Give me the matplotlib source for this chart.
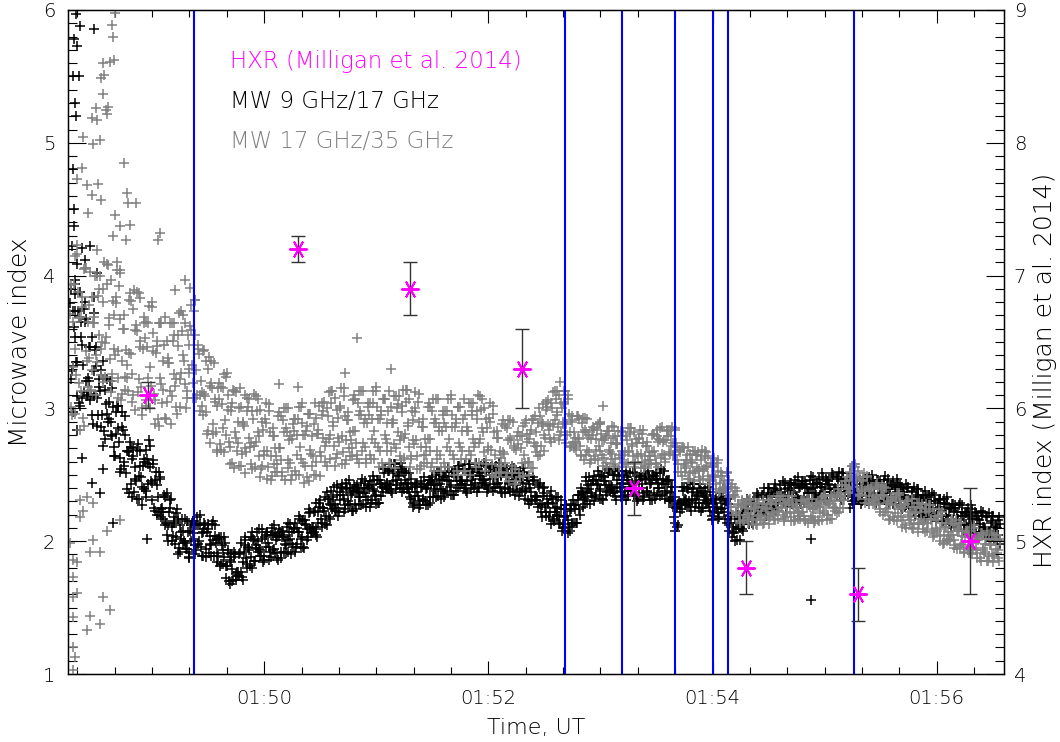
import numpy as np
import matplotlib
matplotlib.use("Agg")
import matplotlib.pyplot as plt
from matplotlib.ticker import MultipleLocator, FixedLocator, FixedFormatter

plt.rcParams['font.family'] = ['DejaVu Sans']
plt.rcParams['font.weight'] = 'light'

# ---------------- data (time in seconds after 01:48:00 UT) ----------------
mw_t0 = 16       # first sample of the 1-s cadence microwave series
mw_t0_b = 16.5   # interleaved samples
mw_t0_c = 16.75  # interleaved samples

mw9_17 = [
    3.79, 3.28, 3.61, 3.86, 3.35, 3.04, 3.65, 3.33, 3.65, 3.09,
    3.21, 3.46, 2.95, 3.28, 3.46, 2.95, 3.13, 2.95, 3.22, 2.77,
    3.22, 2.92, 2.80, 3.01, 2.64, 3.02, 2.85, 2.63, 2.97, 2.60,
    2.51, 2.68, 2.75, 2.33, 2.64, 2.47, 2.69, 2.32, 2.48, 2.57,
    2.60, 2.38, 2.58, 2.72, 2.44, 2.25, 2.52, 2.33, 2.47, 2.18,
    2.22, 2.33, 2.05, 2.22, 2.32, 2.04, 2.14, 2.03, 2.17, 1.92,
    2.17, 2.00, 1.94, 2.07, 1.88, 2.12, 2.06, 1.97, 2.18, 2.00,
    1.96, 2.07, 2.14, 1.88, 2.09, 1.98, 2.13, 1.89, 1.99, 2.02,
    2.02, 1.83, 1.93, 1.99, 1.81, 1.70, 1.90, 1.79, 1.88, 1.71,
    1.77, 1.91, 1.73, 1.92, 2.03, 1.83, 1.93, 1.88, 2.02, 1.85,
    2.07, 1.94, 1.89, 2.02, 1.86, 2.05, 1.99, 1.92, 2.10, 1.94,
    1.91, 2.03, 2.09, 1.87, 2.05, 1.98, 2.11, 1.92, 2.02, 2.07,
    2.09, 1.96, 2.07, 2.17, 2.03, 1.96, 2.16, 2.09, 2.21, 2.06,
    2.11, 2.23, 2.05, 2.22, 2.31, 2.14, 2.23, 2.19, 2.32, 2.17,
    2.38, 2.27, 2.23, 2.35, 2.22, 2.40, 2.35, 2.27, 2.44, 2.30,
    2.27, 2.36, 2.42, 2.24, 2.39, 2.33, 2.44, 2.28, 2.36, 2.40,
    2.41, 2.29, 2.39, 2.46, 2.35, 2.29, 2.46, 2.41, 2.51, 2.39,
    2.43, 2.53, 2.38, 2.51, 2.58, 2.42, 2.49, 2.44, 2.54, 2.39,
    2.53, 2.39, 2.33, 2.41, 2.27, 2.42, 2.37, 2.30, 2.45, 2.32,
    2.30, 2.40, 2.46, 2.29, 2.45, 2.38, 2.50, 2.34, 2.43, 2.46,
    2.48, 2.36, 2.46, 2.53, 2.42, 2.35, 2.52, 2.45, 2.54, 2.42,
    2.45, 2.54, 2.38, 2.51, 2.58, 2.42, 2.49, 2.44, 2.54, 2.40,
    2.57, 2.46, 2.42, 2.52, 2.39, 2.55, 2.50, 2.43, 2.57, 2.44,
    2.41, 2.50, 2.55, 2.36, 2.51, 2.44, 2.54, 2.38, 2.46, 2.49,
    2.49, 2.37, 2.46, 2.52, 2.39, 2.31, 2.46, 2.37, 2.45, 2.31,
    2.33, 2.41, 2.22, 2.34, 2.41, 2.22, 2.28, 2.22, 2.32, 2.15,
    2.33, 2.20, 2.14, 2.24, 2.10, 2.27, 2.19, 2.11, 2.28, 2.14,
    2.14, 2.27, 2.35, 2.20, 2.37, 2.32, 2.45, 2.30, 2.39, 2.43,
    2.45, 2.33, 2.43, 2.50, 2.39, 2.32, 2.48, 2.42, 2.51, 2.38,
    2.41, 2.50, 2.34, 2.46, 2.53, 2.37, 2.43, 2.38, 2.48, 2.34,
    2.51, 2.39, 2.35, 2.45, 2.32, 2.48, 2.43, 2.36, 2.51, 2.38,
    2.35, 2.44, 2.50, 2.32, 2.47, 2.40, 2.51, 2.35, 2.43, 2.45,
    2.45, 2.32, 2.37, 2.33, 2.14, 2.11, 2.30, 2.28, 2.38, 2.27,
    2.31, 2.39, 2.26, 2.37, 2.43, 2.29, 2.34, 2.29, 2.38, 2.25,
    2.40, 2.30, 2.26, 2.32, 2.17, 2.29, 2.26, 2.21, 2.36, 2.25,
    2.22, 2.30, 2.32, 2.08, 2.17, 2.07, 2.17, 2.01, 2.11, 2.17,
    2.21, 2.13, 2.23, 2.30, 2.19, 2.14, 2.29, 2.24, 2.33, 2.22,
    2.26, 2.35, 2.22, 2.33, 2.40, 2.26, 2.33, 2.28, 2.38, 2.26,
    2.42, 2.32, 2.30, 2.39, 2.28, 2.42, 2.38, 2.32, 2.46, 2.34,
    2.32, 2.41, 2.45, 2.29, 2.43, 2.36, 2.46, 2.32, 2.40, 2.43,
    2.44, 2.33, 2.41, 2.48, 2.37, 2.31, 2.45, 2.39, 2.48, 2.36,
    2.39, 2.47, 2.33, 2.45, 2.51, 2.37, 2.43, 2.38, 2.45, 2.28,
    2.41, 2.32, 2.31, 2.41, 2.30, 2.45, 2.41, 2.34, 2.48, 2.36,
    2.34, 2.42, 2.46, 2.30, 2.43, 2.36, 2.46, 2.32, 2.39, 2.41,
    2.42, 2.31, 2.39, 2.44, 2.33, 2.26, 2.39, 2.32, 2.40, 2.27,
    2.30, 2.37, 2.23, 2.33, 2.39, 2.24, 2.30, 2.24, 2.33, 2.20,
    2.35, 2.25, 2.21, 2.30, 2.18, 2.31, 2.26, 2.19, 2.32, 2.20,
    2.17, 2.25, 2.28, 2.12, 2.25, 2.17, 2.27, 2.12, 2.19, 2.21,
    2.22, 2.12, 2.18, 2.24, 2.12, 2.07, 2.19, 2.13, 2.19, 2.08,
    2.10, 2.18, 2.03, 2.14, 2.19, 2.05, 2.10, 2.05, 2.13,
]

mw9_17_b = [
    3.22, 3.73, 3.97, 3.35, 3.73, 3.02, 3.48, 3.12, 3.67, 3.23,
    3.46, 3.11, 2.88, 3.44, 3.08, 3.22, 2.86, 3.36, 2.83, 3.03,
    2.90, 3.21, 2.79, 2.64, 2.97, 3.02, 2.75, 2.54, 2.84, 2.94,
    2.68, 2.36, 2.71, 2.62, 2.37, 2.45, 2.73, 2.57, 2.27, 2.39,
    2.33, 2.62, 2.76, 2.45, 2.61, 2.23, 2.42, 2.22, 2.48, 2.25,
    2.35, 2.14, 2.00, 2.31, 2.11, 2.18, 1.98, 2.24, 1.95, 2.07,
    1.99, 2.17, 1.94, 1.87, 2.08, 2.14, 2.02, 1.93, 2.12, 2.20,
    2.06, 1.89, 2.12, 2.07, 1.91, 1.97, 2.15, 2.04, 1.84, 1.89,
    1.81, 1.97, 2.03, 1.81, 1.93, 1.68, 1.84, 1.71, 1.90, 1.77,
    1.90, 1.77, 1.71, 2.01, 1.87, 1.96, 1.81, 2.07, 1.85, 1.97,
    1.92, 2.09, 1.89, 1.84, 2.03, 2.07, 1.96, 1.88, 2.05, 2.12,
    2.01, 1.86, 2.07, 2.03, 1.92, 1.97, 2.14, 2.07, 1.90, 1.96,
    1.92, 2.10, 2.19, 2.02, 2.15, 1.95, 2.12, 2.03, 2.22, 2.11,
    2.22, 2.09, 2.03, 2.29, 2.17, 2.25, 2.13, 2.37, 2.18, 2.28,
    2.24, 2.41, 2.23, 2.19, 2.37, 2.41, 2.32, 2.24, 2.40, 2.46,
    2.35, 2.23, 2.41, 2.38, 2.28, 2.33, 2.47, 2.40, 2.26, 2.31,
    2.26, 2.42, 2.49, 2.34, 2.46, 2.29, 2.43, 2.37, 2.54, 2.44,
    2.53, 2.42, 2.36, 2.58, 2.46, 2.52, 2.40, 2.59, 2.40, 2.46,
    2.39, 2.51, 2.32, 2.26, 2.41, 2.43, 2.34, 2.27, 2.41, 2.48,
    2.39, 2.27, 2.46, 2.44, 2.33, 2.39, 2.53, 2.47, 2.32, 2.38,
    2.33, 2.49, 2.56, 2.41, 2.52, 2.35, 2.48, 2.40, 2.57, 2.46,
    2.54, 2.42, 2.36, 2.58, 2.46, 2.52, 2.40, 2.59, 2.41, 2.49,
    2.44, 2.59, 2.42, 2.37, 2.53, 2.56, 2.47, 2.40, 2.53, 2.59,
    2.49, 2.36, 2.53, 2.50, 2.39, 2.43, 2.57, 2.50, 2.35, 2.39,
    2.34, 2.49, 2.55, 2.38, 2.48, 2.28, 2.40, 2.31, 2.46, 2.34,
    2.42, 2.28, 2.18, 2.40, 2.26, 2.32, 2.18, 2.38, 2.17, 2.25,
    2.19, 2.33, 2.13, 2.08, 2.24, 2.27, 2.16, 2.08, 2.24, 2.31,
    2.24, 2.14, 2.35, 2.35, 2.26, 2.33, 2.48, 2.42, 2.28, 2.34,
    2.30, 2.46, 2.53, 2.38, 2.49, 2.31, 2.45, 2.37, 2.53, 2.42,
    2.50, 2.38, 2.31, 2.53, 2.41, 2.46, 2.34, 2.53, 2.35, 2.43,
    2.38, 2.52, 2.35, 2.30, 2.46, 2.49, 2.40, 2.33, 2.47, 2.53,
    2.43, 2.31, 2.49, 2.46, 2.35, 2.40, 2.54, 2.47, 2.32, 2.36,
    2.30, 2.41, 2.41, 2.18, 2.25, 2.12, 2.29, 2.24, 2.41, 2.32,
    2.40, 2.30, 2.23, 2.43, 2.32, 2.36, 2.25, 2.43, 2.25, 2.33,
    2.29, 2.41, 2.23, 2.16, 2.28, 2.31, 2.24, 2.18, 2.33, 2.39,
    2.29, 2.14, 2.28, 2.19, 2.03, 2.06, 2.20, 2.14, 2.01, 2.09,
    2.08, 2.24, 2.32, 2.19, 2.29, 2.13, 2.26, 2.19, 2.35, 2.26,
    2.35, 2.25, 2.19, 2.40, 2.29, 2.35, 2.24, 2.43, 2.26, 2.35,
    2.31, 2.45, 2.29, 2.26, 2.40, 2.44, 2.36, 2.29, 2.43, 2.48,
    2.40, 2.28, 2.45, 2.41, 2.31, 2.36, 2.49, 2.43, 2.30, 2.35,
    2.30, 2.43, 2.51, 2.37, 2.47, 2.30, 2.42, 2.35, 2.50, 2.40,
    2.48, 2.37, 2.31, 2.51, 2.40, 2.45, 2.34, 2.51, 2.30, 2.35,
    2.31, 2.45, 2.31, 2.28, 2.43, 2.47, 2.38, 2.31, 2.45, 2.50,
    2.41, 2.29, 2.46, 2.41, 2.31, 2.36, 2.49, 2.42, 2.28, 2.33,
    2.28, 2.41, 2.47, 2.33, 2.42, 2.24, 2.35, 2.27, 2.41, 2.31,
    2.38, 2.27, 2.19, 2.39, 2.27, 2.32, 2.20, 2.38, 2.20, 2.28,
    2.24, 2.36, 2.20, 2.15, 2.29, 2.32, 2.23, 2.15, 2.29, 2.33,
    2.24, 2.11, 2.28, 2.23, 2.13, 2.17, 2.29, 2.22, 2.08, 2.13,
    2.08, 2.20, 2.27, 2.12, 2.22, 2.04, 2.16, 2.07, 2.22, 2.11,
    2.19, 2.07, 2.00, 2.19, 2.08, 2.12, 2.01, 2.18,
]

mw9_17_c = [
    3.90, 3.32, 3.54, 3.09, 3.69, 3.54, 3.08, 3.75, 3.21, 3.10,
    3.06, 3.54, 3.09, 3.32, 2.87, 3.16, 3.29, 2.72, 3.14, 2.96,
    3.05, 2.90, 3.15, 2.71, 2.81, 3.02, 2.52, 2.86, 2.57, 2.80,
    2.39, 2.67, 2.43, 2.70, 2.56, 2.32, 2.49, 2.68, 2.41, 2.62,
    2.69, 2.43, 2.56, 2.31, 2.58, 2.46, 2.20, 2.52, 2.24, 2.17,
    2.12, 2.36, 2.12, 2.25, 2.00, 2.15, 2.21, 1.90, 2.12, 2.02,
    2.08, 1.99, 2.15, 1.92, 2.00, 2.15, 1.90, 2.12, 1.98, 2.13,
    1.89, 2.09, 1.94, 2.13, 2.04, 1.89, 2.01, 2.12, 1.91, 2.03,
    2.03, 1.83, 1.88, 1.72, 1.91, 1.86, 1.70, 1.92, 1.75, 1.74,
    1.74, 1.99, 1.84, 1.97, 1.80, 1.95, 2.03, 1.80, 2.01, 1.95,
    2.00, 1.93, 2.09, 1.89, 1.96, 2.07, 1.86, 2.05, 1.93, 2.06,
    1.87, 2.04, 1.92, 2.08, 2.03, 1.91, 2.01, 2.13, 1.98, 2.10,
    2.14, 1.98, 2.07, 1.95, 2.16, 2.13, 2.01, 2.24, 2.09, 2.08,
    2.07, 2.29, 2.14, 2.26, 2.11, 2.25, 2.33, 2.12, 2.32, 2.27,
    2.33, 2.28, 2.42, 2.25, 2.31, 2.43, 2.22, 2.39, 2.28, 2.40,
    2.23, 2.38, 2.28, 2.42, 2.37, 2.27, 2.36, 2.45, 2.33, 2.42,
    2.45, 2.31, 2.38, 2.28, 2.46, 2.43, 2.34, 2.54, 2.42, 2.41,
    2.39, 2.58, 2.45, 2.54, 2.39, 2.50, 2.56, 2.37, 2.51, 2.43,
    2.44, 2.37, 2.47, 2.29, 2.34, 2.44, 2.25, 2.41, 2.31, 2.43,
    2.27, 2.42, 2.33, 2.48, 2.42, 2.33, 2.42, 2.52, 2.39, 2.49,
    2.52, 2.38, 2.45, 2.35, 2.52, 2.49, 2.38, 2.57, 2.45, 2.43,
    2.40, 2.58, 2.45, 2.54, 2.39, 2.50, 2.56, 2.37, 2.52, 2.47,
    2.51, 2.46, 2.58, 2.41, 2.47, 2.57, 2.38, 2.54, 2.43, 2.54,
    2.37, 2.51, 2.40, 2.54, 2.48, 2.37, 2.46, 2.55, 2.42, 2.50,
    2.53, 2.38, 2.44, 2.32, 2.48, 2.43, 2.30, 2.48, 2.34, 2.31,
    2.26, 2.44, 2.27, 2.36, 2.19, 2.29, 2.34, 2.13, 2.29, 2.22,
    2.26, 2.19, 2.31, 2.13, 2.18, 2.27, 2.06, 2.23, 2.12, 2.27,
    2.14, 2.31, 2.24, 2.40, 2.36, 2.28, 2.38, 2.48, 2.36, 2.46,
    2.49, 2.35, 2.42, 2.32, 2.49, 2.45, 2.35, 2.54, 2.41, 2.39,
    2.36, 2.54, 2.40, 2.49, 2.33, 2.44, 2.50, 2.31, 2.46, 2.41,
    2.44, 2.39, 2.51, 2.34, 2.40, 2.50, 2.31, 2.47, 2.37, 2.48,
    2.31, 2.46, 2.36, 2.51, 2.44, 2.34, 2.43, 2.53, 2.38, 2.46,
    2.46, 2.30, 2.26, 2.08, 2.26, 2.28, 2.22, 2.41, 2.30, 2.29,
    2.27, 2.44, 2.31, 2.39, 2.26, 2.35, 2.40, 2.23, 2.36, 2.31,
    2.35, 2.29, 2.37, 2.19, 2.22, 2.32, 2.17, 2.32, 2.24, 2.34,
    2.17, 2.28, 2.12, 2.20, 2.11, 2.00, 2.09, 2.20, 2.10, 2.22,
    2.27, 2.16, 2.23, 2.13, 2.29, 2.27, 2.18, 2.36, 2.25, 2.24,
    2.23, 2.40, 2.27, 2.36, 2.23, 2.34, 2.39, 2.23, 2.37, 2.33,
    2.37, 2.33, 2.44, 2.30, 2.35, 2.44, 2.28, 2.42, 2.33, 2.43,
    2.29, 2.42, 2.33, 2.45, 2.40, 2.31, 2.39, 2.48, 2.36, 2.44,
    2.47, 2.35, 2.41, 2.31, 2.46, 2.43, 2.34, 2.51, 2.39, 2.37,
    2.35, 2.52, 2.39, 2.47, 2.34, 2.44, 2.47, 2.25, 2.37, 2.33,
    2.37, 2.34, 2.46, 2.32, 2.38, 2.47, 2.30, 2.44, 2.35, 2.45,
    2.30, 2.43, 2.34, 2.45, 2.40, 2.31, 2.39, 2.47, 2.34, 2.42,
    2.45, 2.32, 2.37, 2.27, 2.41, 2.37, 2.26, 2.43, 2.30, 2.28,
    2.25, 2.41, 2.27, 2.35, 2.21, 2.31, 2.35, 2.18, 2.31, 2.26,
    2.30, 2.24, 2.35, 2.19, 2.24, 2.32, 2.15, 2.28, 2.19, 2.28,
    2.13, 2.25, 2.16, 2.27, 2.22, 2.12, 2.19, 2.27, 2.14, 2.22,
    2.25, 2.11, 2.17, 2.06, 2.21, 2.17, 2.07, 2.23, 2.11, 2.08,
    2.06, 2.21, 2.08, 2.15, 2.02, 2.11, 2.16, 1.98,
]

mw17_35 = [
    3.71, 2.95, 3.94, 3.45, 4.23, 3.19, 3.69, 2.93, 4.06, 3.36,
    3.38, 4.03, 3.29, 3.64, 3.10, 3.85, 4.00, 3.50, 3.80, 3.24,
    3.94, 3.63, 3.12, 3.81, 3.40, 4.04, 3.23, 3.67, 3.11, 3.60,
    3.44, 3.13, 3.87, 3.26, 3.75, 2.99, 3.58, 3.87, 3.16, 3.45,
    3.53, 3.02, 3.64, 3.31, 3.80, 3.11, 3.42, 2.92, 3.64, 3.18,
    3.14, 3.69, 3.05, 3.34, 2.88, 3.51, 3.64, 3.22, 3.47, 3.01,
    3.58, 3.36, 3.00, 3.55, 3.27, 3.78, 3.19, 3.55, 3.10, 3.41,
    3.21, 2.95, 3.44, 2.97, 3.30, 2.74, 3.15, 3.34, 2.82, 3.02,
    3.07, 2.69, 3.15, 2.91, 3.27, 2.75, 2.98, 2.59, 3.13, 2.78,
    2.74, 3.15, 2.66, 2.87, 2.51, 2.98, 3.07, 2.74, 2.92, 2.56,
    2.98, 2.79, 2.48, 2.90, 2.65, 3.04, 2.56, 2.82, 2.49, 2.79,
    2.70, 2.52, 2.97, 2.61, 2.91, 2.46, 2.82, 3.00, 2.59, 2.77,
    2.83, 2.50, 2.92, 2.71, 3.04, 2.59, 2.80, 2.48, 2.96, 2.66,
    2.64, 3.04, 2.60, 2.81, 2.49, 2.95, 3.05, 2.75, 2.94, 2.62,
    3.04, 2.87, 2.57, 2.99, 2.75, 3.15, 2.67, 2.94, 2.61, 2.91,
    2.82, 2.64, 3.10, 2.74, 3.04, 2.59, 2.95, 3.13, 2.71, 2.89,
    2.95, 2.62, 3.04, 2.83, 3.16, 2.71, 2.92, 2.59, 3.07, 2.77,
    2.74, 3.13, 2.68, 2.89, 2.55, 3.00, 3.09, 2.79, 2.97, 2.63,
    3.05, 2.87, 2.56, 2.98, 2.73, 3.12, 2.64, 2.90, 2.57, 2.86,
    2.77, 2.59, 3.04, 2.68, 2.98, 2.53, 2.89, 3.07, 2.65, 2.83,
    2.89, 2.56, 2.98, 2.77, 3.10, 2.65, 2.86, 2.53, 3.01, 2.71,
    2.68, 3.07, 2.62, 2.83, 2.50, 2.95, 3.04, 2.74, 2.92, 2.59,
    2.99, 2.82, 2.53, 2.92, 2.69, 3.04, 2.58, 2.82, 2.51, 2.78,
    2.68, 2.52, 2.91, 2.59, 2.85, 2.45, 2.76, 2.90, 2.54, 2.69,
    2.73, 2.48, 2.79, 2.65, 2.91, 2.60, 2.77, 2.55, 2.92, 2.72,
    2.72, 3.00, 2.72, 2.88, 2.68, 2.99, 3.06, 2.87, 3.00, 2.78,
    3.07, 2.95, 2.76, 3.04, 2.88, 3.13, 2.80, 2.96, 2.72, 2.90,
    2.82, 2.69, 2.94, 2.72, 2.89, 2.61, 2.82, 2.92, 2.67, 2.77,
    2.80, 2.62, 2.84, 2.72, 2.90, 2.65, 2.76, 2.59, 2.83, 2.67,
    2.66, 2.86, 2.62, 2.73, 2.56, 2.79, 2.82, 2.67, 2.76, 2.59,
    2.81, 2.72, 2.56, 2.77, 2.64, 2.84, 2.60, 2.74, 2.57, 2.72,
    2.67, 2.58, 2.81, 2.64, 2.79, 2.56, 2.76, 2.86, 2.65, 2.76,
    2.79, 2.66, 2.84, 2.74, 2.85, 2.61, 2.69, 2.52, 2.71, 2.57,
    2.55, 2.71, 2.51, 2.59, 2.45, 2.65, 2.67, 2.54, 2.61, 2.47,
    2.63, 2.56, 2.43, 2.59, 2.48, 2.63, 2.43, 2.53, 2.38, 2.49,
    2.45, 2.37, 2.52, 2.33, 2.41, 2.20, 2.33, 2.38, 2.20, 2.26,
    2.27, 2.15, 2.29, 2.21, 2.32, 2.17, 2.24, 2.13, 2.29, 2.19,
    2.18, 2.31, 2.17, 2.24, 2.13, 2.28, 2.31, 2.21, 2.28, 2.17,
    2.31, 2.25, 2.15, 2.29, 2.21, 2.34, 2.18, 2.27, 2.16, 2.26,
    2.23, 2.17, 2.31, 2.19, 2.29, 2.14, 2.26, 2.32, 2.18, 2.24,
    2.26, 2.15, 2.30, 2.23, 2.35, 2.20, 2.28, 2.17, 2.34, 2.25,
    2.25, 2.39, 2.25, 2.34, 2.25, 2.42, 2.48, 2.41, 2.50, 2.41,
    2.56, 2.47, 2.34, 2.48, 2.38, 2.51, 2.32, 2.41, 2.28, 2.39,
    2.35, 2.27, 2.44, 2.28, 2.39, 2.20, 2.34, 2.40, 2.22, 2.28,
    2.30, 2.16, 2.32, 2.24, 2.36, 2.18, 2.25, 2.12, 2.30, 2.18,
    2.16, 2.32, 2.13, 2.21, 2.07, 2.25, 2.28, 2.15, 2.22, 2.08,
    2.23, 2.16, 2.03, 2.19, 2.08, 2.24, 2.04, 2.14, 1.99, 2.11,
    2.07, 2.00, 2.17, 2.01, 2.12, 1.94, 2.08, 2.14, 1.97, 2.03,
    2.06, 1.91, 2.08, 1.99, 2.12, 1.93, 2.01, 1.87, 2.06, 1.93,
    1.92, 2.08, 1.89, 1.97, 1.84, 2.01, 2.05, 1.93, 2.00,
]

mw17_35_b = [
    3.01, 3.65, 4.15, 3.25, 3.88, 2.84, 3.76, 4.05, 3.43, 3.16,
    3.78, 3.14, 3.64, 4.00, 3.35, 3.90, 3.45, 3.20, 4.10, 3.54,
    4.08, 3.37, 3.21, 3.70, 3.84, 3.43, 3.92, 3.06, 3.60, 3.24,
    3.33, 3.82, 3.41, 3.05, 3.89, 3.63, 3.12, 3.46, 2.95, 3.64,
    3.06, 3.46, 3.77, 3.17, 3.57, 2.88, 3.47, 3.64, 3.23, 3.04,
    3.48, 2.92, 3.34, 3.64, 3.09, 3.55, 3.17, 2.96, 3.72, 3.27,
    3.70, 3.18, 3.08, 3.48, 3.62, 3.33, 3.73, 3.08, 3.45, 3.10,
    3.12, 3.43, 3.09, 2.81, 3.39, 3.19, 2.81, 3.05, 2.67, 3.15,
    2.73, 3.03, 3.26, 2.80, 3.10, 2.58, 3.01, 3.14, 2.82, 2.68,
    3.00, 2.57, 2.88, 3.10, 2.67, 3.01, 2.71, 2.54, 3.11, 2.75,
    3.07, 2.64, 2.54, 2.84, 2.92, 2.68, 2.98, 2.46, 2.79, 2.58,
    2.64, 2.94, 2.70, 2.49, 3.00, 2.85, 2.55, 2.76, 2.46, 2.88,
    2.53, 2.80, 3.01, 2.62, 2.89, 2.44, 2.83, 2.96, 2.69, 2.57,
    2.88, 2.50, 2.81, 3.02, 2.64, 2.98, 2.72, 2.57, 3.12, 2.80,
    3.13, 2.72, 2.63, 2.93, 3.02, 2.79, 3.09, 2.58, 2.91, 2.70,
    2.76, 3.06, 2.83, 2.62, 3.13, 2.98, 2.68, 2.89, 2.59, 3.01,
    2.65, 2.92, 3.13, 2.74, 3.01, 2.56, 2.95, 3.07, 2.80, 2.68,
    2.98, 2.59, 2.89, 3.09, 2.70, 3.03, 2.76, 2.61, 3.14, 2.81,
    3.14, 2.71, 2.62, 2.91, 3.00, 2.76, 3.05, 2.54, 2.86, 2.65,
    2.71, 3.01, 2.77, 2.56, 3.07, 2.92, 2.62, 2.83, 2.53, 2.95,
    2.59, 2.86, 3.07, 2.68, 2.95, 2.50, 2.89, 3.01, 2.74, 2.62,
    2.92, 2.53, 2.83, 3.04, 2.65, 2.98, 2.71, 2.56, 3.10, 2.77,
    3.07, 2.67, 2.58, 2.85, 2.93, 2.69, 2.96, 2.48, 2.78, 2.57,
    2.63, 2.88, 2.66, 2.48, 2.91, 2.78, 2.51, 2.70, 2.43, 2.79,
    2.51, 2.70, 2.87, 2.59, 2.81, 2.50, 2.81, 2.91, 2.74, 2.67,
    2.89, 2.65, 2.87, 3.03, 2.78, 3.01, 2.84, 2.75, 3.12, 2.91,
    3.13, 2.86, 2.80, 3.00, 3.05, 2.88, 3.07, 2.71, 2.91, 2.75,
    2.78, 2.94, 2.77, 2.64, 2.93, 2.84, 2.65, 2.78, 2.59, 2.84,
    2.64, 2.77, 2.88, 2.68, 2.81, 2.57, 2.78, 2.83, 2.69, 2.62,
    2.78, 2.57, 2.73, 2.83, 2.63, 2.79, 2.65, 2.58, 2.85, 2.68,
    2.85, 2.64, 2.58, 2.74, 2.78, 2.66, 2.81, 2.55, 2.72, 2.61,
    2.64, 2.80, 2.68, 2.58, 2.84, 2.77, 2.63, 2.75, 2.60, 2.83,
    2.67, 2.79, 2.86, 2.65, 2.74, 2.52, 2.67, 2.71, 2.58, 2.52,
    2.65, 2.47, 2.60, 2.68, 2.51, 2.65, 2.53, 2.46, 2.69, 2.54,
    2.67, 2.49, 2.45, 2.56, 2.58, 2.48, 2.59, 2.37, 2.49, 2.40,
    2.41, 2.51, 2.39, 2.26, 2.43, 2.35, 2.21, 2.27, 2.14, 2.30,
    2.16, 2.25, 2.31, 2.18, 2.27, 2.12, 2.25, 2.29, 2.20, 2.16,
    2.26, 2.14, 2.24, 2.31, 2.18, 2.29, 2.20, 2.16, 2.34, 2.23,
    2.34, 2.20, 2.17, 2.27, 2.30, 2.22, 2.32, 2.15, 2.26, 2.19,
    2.21, 2.30, 2.22, 2.15, 2.32, 2.27, 2.17, 2.24, 2.14, 2.28,
    2.16, 2.26, 2.33, 2.21, 2.30, 2.16, 2.29, 2.34, 2.26, 2.23,
    2.34, 2.22, 2.33, 2.42, 2.31, 2.45, 2.39, 2.37, 2.57, 2.47,
    2.58, 2.41, 2.35, 2.45, 2.48, 2.38, 2.48, 2.28, 2.39, 2.30,
    2.31, 2.42, 2.32, 2.22, 2.42, 2.35, 2.22, 2.29, 2.16, 2.32,
    2.18, 2.27, 2.36, 2.19, 2.30, 2.11, 2.27, 2.30, 2.20, 2.14,
    2.26, 2.09, 2.21, 2.29, 2.13, 2.25, 2.13, 2.07, 2.28, 2.14,
    2.27, 2.09, 2.05, 2.16, 2.19, 2.09, 2.20, 1.98, 2.11, 2.02,
    2.04, 2.15, 2.05, 1.95, 2.16, 2.09, 1.96, 2.04, 1.91, 2.08,
    1.93, 2.03, 2.11, 1.95, 2.05, 1.87, 2.02, 2.06, 1.95, 1.90,
    2.02, 1.85, 1.97, 2.06, 1.89, 2.02, 1.91, 1.85,
]

mw17_35_c = [
    3.93, 3.31, 2.96, 4.16, 3.68, 3.13, 3.84, 2.87, 4.06, 3.65,
    3.13, 3.84, 3.69, 3.40, 4.00, 3.55, 3.25, 3.90, 3.49, 4.09,
    3.68, 3.97, 3.26, 3.45, 3.79, 3.08, 4.02, 3.36, 3.70, 3.14,
    3.23, 3.42, 3.81, 3.10, 3.59, 3.88, 3.22, 3.51, 3.00, 3.69,
    3.65, 3.23, 3.00, 3.76, 3.43, 3.06, 3.51, 2.87, 3.64, 3.36,
    2.93, 3.51, 3.38, 3.13, 3.64, 3.26, 3.01, 3.55, 3.22, 3.73,
    3.40, 3.64, 3.13, 3.30, 3.59, 3.08, 3.82, 3.29, 3.48, 2.98,
    3.02, 3.11, 3.36, 2.83, 3.17, 3.36, 2.88, 3.07, 2.69, 3.19,
    3.16, 2.85, 2.67, 3.24, 2.99, 2.71, 3.04, 2.55, 3.12, 2.90,
    2.57, 3.01, 2.90, 2.70, 3.08, 2.78, 2.58, 2.98, 2.72, 3.09,
    2.82, 2.99, 2.57, 2.68, 2.89, 2.47, 3.03, 2.64, 2.85, 2.52,
    2.58, 2.70, 2.94, 2.52, 2.82, 3.00, 2.61, 2.79, 2.50, 2.92,
    2.92, 2.65, 2.50, 3.01, 2.80, 2.57, 2.87, 2.45, 2.96, 2.79,
    2.50, 2.93, 2.84, 2.67, 3.04, 2.78, 2.60, 3.00, 2.77, 3.13,
    2.90, 3.08, 2.66, 2.78, 3.00, 2.58, 3.15, 2.76, 2.97, 2.64,
    2.70, 2.83, 3.07, 2.65, 2.95, 3.13, 2.74, 2.92, 2.62, 3.04,
    3.04, 2.77, 2.62, 3.13, 2.92, 2.68, 2.98, 2.56, 3.07, 2.89,
    2.59, 3.01, 2.91, 2.73, 3.09, 2.82, 2.64, 3.02, 2.78, 3.14,
    2.89, 3.07, 2.64, 2.76, 2.97, 2.54, 3.11, 2.71, 2.92, 2.59,
    2.65, 2.77, 3.01, 2.59, 2.89, 3.07, 2.68, 2.86, 2.56, 2.98,
    2.98, 2.71, 2.56, 3.07, 2.86, 2.62, 2.92, 2.50, 3.01, 2.83,
    2.53, 2.95, 2.86, 2.68, 3.04, 2.77, 2.59, 2.98, 2.74, 3.09,
    2.85, 3.00, 2.61, 2.71, 2.90, 2.50, 3.02, 2.65, 2.83, 2.51,
    2.57, 2.67, 2.87, 2.51, 2.76, 2.91, 2.57, 2.72, 2.45, 2.82,
    2.79, 2.59, 2.49, 2.89, 2.75, 2.60, 2.84, 2.55, 2.94, 2.82,
    2.64, 2.94, 2.90, 2.80, 3.05, 2.88, 2.77, 3.04, 2.88, 3.13,
    2.97, 3.10, 2.82, 2.90, 3.03, 2.74, 3.10, 2.82, 2.94, 2.70,
    2.73, 2.78, 2.92, 2.65, 2.82, 2.93, 2.69, 2.80, 2.61, 2.86,
    2.85, 2.69, 2.61, 2.88, 2.76, 2.63, 2.79, 2.56, 2.83, 2.74,
    2.58, 2.79, 2.74, 2.65, 2.83, 2.68, 2.59, 2.79, 2.67, 2.85,
    2.73, 2.82, 2.60, 2.66, 2.77, 2.55, 2.84, 2.64, 2.75, 2.58,
    2.61, 2.67, 2.81, 2.59, 2.75, 2.85, 2.66, 2.76, 2.62, 2.84,
    2.84, 2.72, 2.65, 2.84, 2.71, 2.58, 2.69, 2.49, 2.70, 2.61,
    2.47, 2.66, 2.61, 2.53, 2.68, 2.56, 2.48, 2.64, 2.53, 2.68,
    2.57, 2.64, 2.46, 2.50, 2.57, 2.39, 2.61, 2.44, 2.52, 2.38,
    2.39, 2.41, 2.46, 2.26, 2.35, 2.40, 2.22, 2.28, 2.15, 2.31,
    2.29, 2.20, 2.14, 2.31, 2.24, 2.16, 2.26, 2.12, 2.29, 2.23,
    2.13, 2.28, 2.25, 2.19, 2.31, 2.22, 2.17, 2.30, 2.22, 2.34,
    2.26, 2.32, 2.18, 2.22, 2.29, 2.15, 2.34, 2.21, 2.28, 2.17,
    2.19, 2.22, 2.30, 2.16, 2.26, 2.32, 2.19, 2.25, 2.15, 2.29,
    2.29, 2.21, 2.16, 2.34, 2.27, 2.20, 2.30, 2.17, 2.35, 2.30,
    2.21, 2.36, 2.35, 2.31, 2.45, 2.39, 2.36, 2.52, 2.46, 2.58,
    2.48, 2.53, 2.35, 2.39, 2.46, 2.29, 2.49, 2.34, 2.41, 2.28,
    2.29, 2.33, 2.41, 2.24, 2.35, 2.41, 2.24, 2.30, 2.17, 2.33,
    2.33, 2.21, 2.15, 2.35, 2.26, 2.16, 2.28, 2.10, 2.30, 2.22,
    2.10, 2.26, 2.22, 2.14, 2.29, 2.17, 2.09, 2.24, 2.14, 2.27,
    2.17, 2.24, 2.06, 2.10, 2.18, 2.00, 2.22, 2.05, 2.14, 2.00,
    2.01, 2.05, 2.13, 1.97, 2.08, 2.14, 1.98, 2.04, 1.92, 2.08,
    2.08, 1.96, 1.90, 2.10, 2.01, 1.91, 2.03, 1.85, 2.05, 1.98,
    1.85, 2.02, 1.98, 1.90, 2.05, 1.94, 1.87, 2.02,
]

# additional scattered samples (early noisy phase and isolated points)
mw9_17_extra_t = [19.5, 21.2, 28.7, 18.0, 19.8, 17.7, 20.7, 18.9, 19.5, 17.7,
                  18.0, 18.0, 17.1, 22.4, 27.0, 19.8, 24.3, 30.5, 18.9, 21.6,
                  28.7, 24.3, 18.9, 28.7, 17.9, 20.0, 28.0, 32.3, 39.3, 22.7,
                  33.9, 57.3, 412.5, 412.5]
mw9_17_extra_v = [5.97, 5.88, 5.86, 5.78, 5.73, 5.50, 5.50, 5.30, 5.20, 4.80,
                  4.50, 4.37, 4.22, 4.21, 4.22, 4.09, 4.12, 4.02, 3.94, 3.88,
                  3.84, 3.80, 3.73, 3.72, 2.97, 2.84, 2.44, 2.36, 2.14, 2.63,
                  2.54, 2.02, 2.02, 1.56]

mw17_35_extra_t = [40.3, 38.7, 39.3, 39.8, 37.6, 33.9, 34.4, 32.8, 33.9, 36.6,
                   35.5, 36.0, 30.2, 28.0, 30.7, 23.2, 28.6, 32.3, 45.1, 20.0,
                   22.7, 31.2, 25.3, 28.0, 32.8, 40.3, 46.7, 47.3, 51.6, 39.3,
                   46.2, 63.3, 25.9, 48.3, 30.7, 43.0, 41.4, 43.0, 64.4, 53.7,
                   72.4, 77.8, 83.1, 80.4,
                   16.3, 20.0, 25.3, 28.6, 21.6, 32.3, 27.0, 28.6, 36.0, 43.0,
                   17.9, 17.9, 20.0, 17.9, 33.9, 37.6, 27.0, 32.3, 25.3, 17.9,
                   17.9, 19.0, 17.9, 21.6, 23.2,
                   169.9, 188.1, 128.2, 138.2, 163.3, 278.3, 280.4, 301.3, 299.7,
                   306.0, 434.4]
mw17_35_extra_v = [5.98, 5.89, 5.80, 5.62, 5.61, 5.60, 5.51, 5.49, 5.37, 5.27,
                   5.25, 5.22, 5.26, 5.19, 5.17, 5.04, 4.99, 5.02, 4.85, 4.73,
                   4.81, 4.69, 4.68, 4.61, 4.57, 4.46, 4.62, 4.55, 4.55, 4.30,
                   4.27, 4.27, 4.47, 4.38, 4.19, 4.37, 4.10, 4.04, 4.32, 3.83,
                   3.89, 3.97, 3.82, 3.91,
                   1.99, 1.84, 2.33, 2.29, 2.18, 1.92, 1.92, 2.01, 2.08, 2.16,
                   1.86, 1.73, 1.61, 1.58, 1.58, 1.48, 1.44, 1.38, 1.33, 1.43,
                   1.20, 1.13, 1.03, 2.31, 2.23,
                   3.53, 3.30, 3.18, 3.16, 3.27, 3.20, 3.13, 3.02, 2.89,
                   2.87, 2.57]

hxr_t = [58, 138, 198, 258, 318, 378, 438, 498]
hxr_index = [6.1, 7.2, 6.9, 6.3, 5.4, 4.8, 4.6, 5.0]
hxr_err = [0.1, 0.1, 0.2, 0.3, 0.2, 0.2, 0.2, 0.4]

event_times = [82.2, 281.0, 311.4, 339.9, 360.5, 368.3, 435.9]

time_tick_pos = [120, 240, 360, 480]
time_tick_labels = ['01:50', '01:52', '01:54', '01:56']

legend_labels = ['HXR (Milligan et al. 2014)', 'MW 9 GHz/17 GHz', 'MW 17 GHz/35 GHz']
legend_colors = ['#ff00ff', '#000000', '#808080']

# ---------------- figure ----------------
W, H = 1060, 742
fig = plt.figure(figsize=(W / 100, H / 100), dpi=100)
ax = fig.add_axes([68 / W, 1 - 674 / H, 936 / W, 664 / H])

black, grey = '#000000', '#808080'
mk = dict(ls='none', marker='+', ms=7.5, mew=1.1)

for t0, vals in ((mw_t0, mw9_17), (mw_t0_b, mw9_17_b), (mw_t0_c, mw9_17_c)):
    ax.plot(t0 + np.arange(len(vals)), vals, color=black, zorder=2, **mk)
ax.plot(mw9_17_extra_t, mw9_17_extra_v, color=black, zorder=2, **mk)
for t0, vals in ((mw_t0, mw17_35), (mw_t0_b, mw17_35_b), (mw_t0_c, mw17_35_c)):
    ax.plot(t0 + np.arange(len(vals)), vals, color=grey, zorder=3, **mk)
ax.plot(mw17_35_extra_t, mw17_35_extra_v, color=grey, zorder=3, **mk)

for et in event_times:
    ax.axvline(et, color='#0000ff', lw=1.5, zorder=5)

ax.set_xlim(15, 516)
ax.set_ylim(1, 6)

ax.xaxis.set_major_locator(FixedLocator(time_tick_pos))
ax.xaxis.set_major_formatter(FixedFormatter(time_tick_labels))
ax.xaxis.set_minor_locator(MultipleLocator(20))
ax.yaxis.set_major_locator(MultipleLocator(1))
ax.yaxis.set_minor_locator(MultipleLocator(0.1))

fs_tick = 14
ax.tick_params(axis='x', which='both', direction='in', top=True, bottom=True,
               labelsize=fs_tick, pad=11, width=0.8)
ax.tick_params(axis='x', which='major', length=9.5)
ax.tick_params(axis='x', which='minor', length=5)
ax.tick_params(axis='y', which='both', direction='in', left=True, right=False,
               labelsize=fs_tick, pad=9, width=0.8)
ax.tick_params(axis='y', which='major', length=13)
ax.tick_params(axis='y', which='minor', length=6.5)
for s in ax.spines.values():
    s.set_linewidth(1.0)

ax2 = ax.twinx()
ax2.set_ylim(4, 9)
ax2.yaxis.set_major_locator(MultipleLocator(1))
ax2.yaxis.set_minor_locator(MultipleLocator(0.1))
ax2.tick_params(axis='y', which='both', direction='in', right=True, left=False,
                labelsize=fs_tick, pad=7, width=0.8)
ax2.tick_params(axis='y', which='major', length=13)
ax2.tick_params(axis='y', which='minor', length=6.5)

ax2.errorbar(hxr_t, hxr_index, yerr=hxr_err, fmt='none', ecolor='#333333',
             elinewidth=1.0, capsize=5, capthick=1.0, zorder=6)
ax2.plot(hxr_t, hxr_index, ls='none', marker=(6, 2, 30), ms=13, mew=1.4,
         color='#ff00ff', zorder=7)

# legend as coloured text lines
for i, (lab, col) in enumerate(zip(legend_labels, legend_colors)):
    ax.text(0.173, 0.923 - i * 0.0605, lab, color=col, fontsize=16.5,
            transform=ax.transAxes, ha='left', va='center', zorder=8)

fig.text(20 / W, 1 - 342 / H, 'Microwave index', rotation=90, ha='center',
         va='center', fontsize=18)
fig.text(1045 / W, 1 - 370 / H, 'HXR index (Milligan et al. 2014)', rotation=90,
         ha='center', va='center', fontsize=18)
fig.text(536 / W, 1 - 728 / H, 'Time, UT', ha='center', va='center', fontsize=16)

fig.savefig('out.png', dpi=100)
